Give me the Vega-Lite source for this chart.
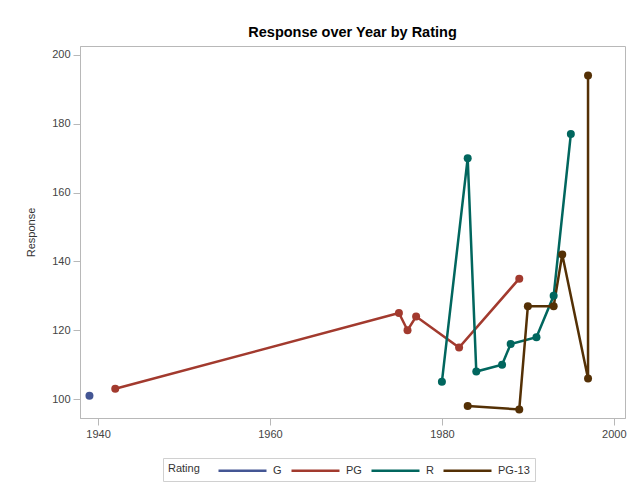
{
  "$schema": "https://vega.github.io/schema/vega-lite/v6.json",
  "autosize": {"type": "none"},
  "padding": {"left": 80, "top": 46, "right": 19, "bottom": 68},
  "width": 545,
  "height": 372,
  "background": "white",
  "title": {
    "text": "Response over Year by Rating",
    "font": "Liberation Sans",
    "fontSize": 14.5,
    "fontWeight": "bold",
    "color": "#000000",
    "anchor": "middle",
    "offset": 6
  },
  "data": {
    "values": [
      {"Year": 1939, "Response": 101, "Rating": "G", "seq": 1},
      {"Year": 1942, "Response": 103, "Rating": "PG", "seq": 1},
      {"Year": 1975, "Response": 125, "Rating": "PG", "seq": 2},
      {"Year": 1976, "Response": 120, "Rating": "PG", "seq": 3},
      {"Year": 1977, "Response": 124, "Rating": "PG", "seq": 4},
      {"Year": 1982, "Response": 115, "Rating": "PG", "seq": 5},
      {"Year": 1989, "Response": 135, "Rating": "PG", "seq": 6},
      {"Year": 1980, "Response": 105, "Rating": "R", "seq": 1},
      {"Year": 1983, "Response": 170, "Rating": "R", "seq": 2},
      {"Year": 1984, "Response": 108, "Rating": "R", "seq": 3},
      {"Year": 1987, "Response": 110, "Rating": "R", "seq": 4},
      {"Year": 1988, "Response": 116, "Rating": "R", "seq": 5},
      {"Year": 1991, "Response": 118, "Rating": "R", "seq": 6},
      {"Year": 1993, "Response": 130, "Rating": "R", "seq": 7},
      {"Year": 1995, "Response": 177, "Rating": "R", "seq": 8},
      {"Year": 1983, "Response": 98, "Rating": "PG-13", "seq": 1},
      {"Year": 1989, "Response": 97, "Rating": "PG-13", "seq": 2},
      {"Year": 1990, "Response": 127, "Rating": "PG-13", "seq": 3},
      {"Year": 1993, "Response": 127, "Rating": "PG-13", "seq": 4},
      {"Year": 1994, "Response": 142, "Rating": "PG-13", "seq": 5},
      {"Year": 1997, "Response": 106, "Rating": "PG-13", "seq": 6},
      {"Year": 1997, "Response": 194, "Rating": "PG-13", "seq": 7}
    ]
  },
  "mark": {
    "type": "line",
    "strokeWidth": 2.5,
    "point": {"filled": true, "size": 64, "opacity": 1}
  },
  "encoding": {
    "x": {
      "field": "Year",
      "type": "quantitative",
      "title": null,
      "scale": {"domain": [1937.9, 2001.3], "nice": false, "zero": false},
      "axis": {"values": [1940, 1960, 1980, 2000], "format": "d", "grid": false}
    },
    "y": {
      "field": "Response",
      "type": "quantitative",
      "title": "Response",
      "scale": {"domain": [94.5, 202.6], "nice": false, "zero": false},
      "axis": {"values": [100, 120, 140, 160, 180, 200], "grid": false}
    },
    "color": {
      "field": "Rating",
      "type": "nominal",
      "scale": {
        "domain": ["G", "PG", "R", "PG-13"],
        "range": ["#445694", "#A23A2E", "#01665E", "#543005"]
      },
      "legend": {
        "orient": "none",
        "legendX": 83,
        "legendY": 412,
        "direction": "horizontal",
        "title": "Rating",
        "titleOrient": "left",
        "titleAnchor": "middle",
        "titleBaseline": "middle",
        "symbolType": "M-1,0H7",
        "symbolSize": 144,
        "symbolStrokeWidth": 2.5,
        "labelOffset": 41,
        "columnPadding": 4,
        "padding": 5,
        "cornerRadius": 0,
        "strokeColor": "#d0d0d0",
        "titleFontWeight": "normal",
        "titleFontSize": 11,
        "labelFontSize": 11,
        "titleFont": "Liberation Sans",
        "labelFont": "Liberation Sans",
        "titleColor": "#333333",
        "labelColor": "#333333",
        "titlePadding": 17
      }
    },
    "order": {"field": "seq", "type": "quantitative"}
  },
  "config": {
    "view": {"stroke": "#b8b8b8", "strokeWidth": 1},
    "axis": {
      "labelFont": "Liberation Sans",
      "labelFontSize": 11,
      "labelColor": "#444444",
      "titleFont": "Liberation Sans",
      "titleFontSize": 11,
      "titleFontWeight": "normal",
      "titleColor": "#333333",
      "domainColor": "#b8b8b8",
      "tickColor": "#b8b8b8",
      "tickSize": 7,
      "labelPadding": 3,
      "titlePadding": 15
    }
  }
}
